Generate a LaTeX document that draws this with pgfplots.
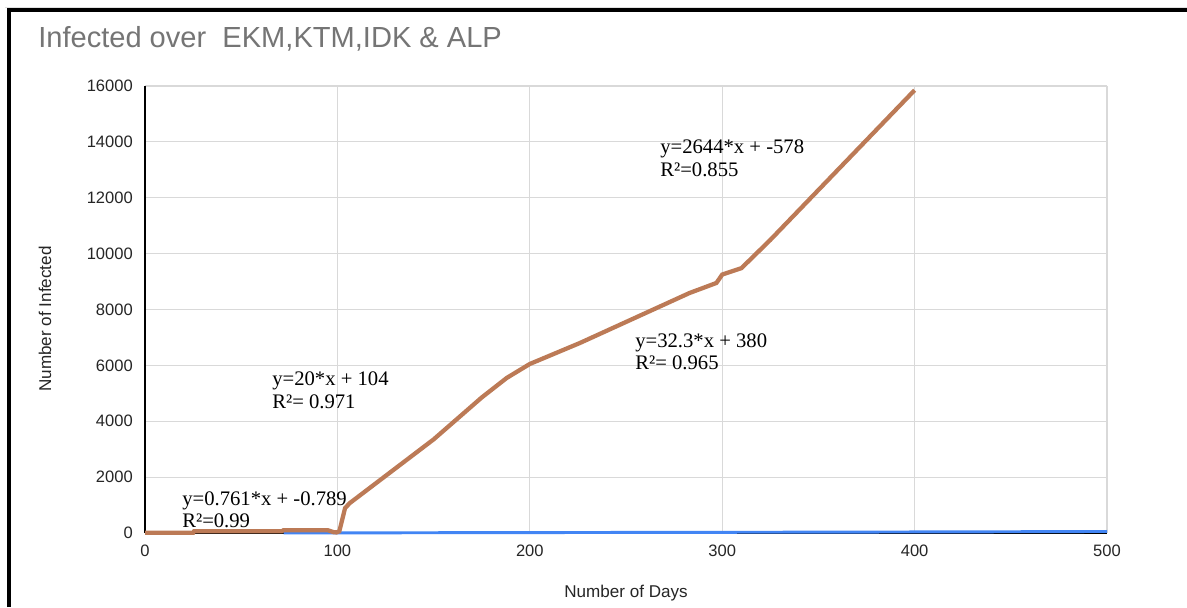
\documentclass[border=0pt]{standalone}
\usepackage{fontspec}
\setmainfont{Liberation Sans}
\newfontfamily\serif{Liberation Serif}
\usepackage{pgfplots}
\pgfplotsset{compat=1.18}
\definecolor{brownline}{RGB}{188,122,86}
\definecolor{blueline}{RGB}{66,133,244}
\definecolor{titlegrey}{RGB}{117,117,117}
\definecolor{gridgrey}{RGB}{217,217,217}
\begin{document}
\begin{tikzpicture}
\path[use as bounding box] (0pt,0pt) rectangle (890.25pt,455.25pt);
\fill[white] (0pt,0pt) rectangle (890.25pt,455.25pt);
\begin{scope}[x=0.75pt,y=0.75pt]
\draw[gridgrey!80, line width=1pt] (5,599.5) -- (1187,599.5);
\draw[black, line width=3pt] (9,0) -- (9,596.5) -- (1187,596.5);
\node[anchor=base west, font=\fontsize{21.8}{24}\selectfont, text=titlegrey, inner sep=0] at (38,559) {Infected over\ \ EKM,KTM,IDK \& ALP};
\end{scope}
\begin{axis}[
  at={(108.75pt,55.5pt)}, anchor=south west,
  scale only axis, width=721.5pt, height=335.25pt,
  xmin=0, xmax=500, ymin=0, ymax=16000,
  xtick={0,100,...,500}, ytick={0,2000,...,16000},
  scaled y ticks=false, scaled x ticks=false,
  grid=major, grid style={gridgrey, line width=0.9pt},
  axis x line=bottom, axis y line=left,
  axis line style={-, black, line width=0.8pt},
  major tick length=0pt,
  tick label style={font=\fontsize{12.4}{14}\selectfont, text=black!85},
  /pgf/number format/assume math mode=true,
  /pgf/number format/1000 sep={},
  yticklabel style={anchor=east, inner sep=0pt, xshift=-9pt},
  xticklabel style={anchor=north, inner sep=0pt, yshift=-9pt},
  clip=false,
]
\addplot[blueline, line width=2.2pt] coordinates {
(72,0) (150,10) (250,20) (350,30) (450,45) (500,55)
};
\addplot[brownline, line width=3.2pt] coordinates {
(0,5) (25,5) (25.5,60) (71,60) (72,100) (95,100) (98,30) (99.5,20) (101,60)
(104,895) (106.5,1074) (150,3350) (175,4850) (188,5550) (200,6050) (226,6800)
(283,8590) (297,8950) (300,9250) (310,9480) (325,10490) (400,15850)
};
\end{axis}
\begin{scope}[x=0.75pt,y=0.75pt,every node/.style={anchor=base west, inner sep=0pt, font=\serif\fontsize{15.5}{18}\selectfont}]
\node at (182,102) {y=0.761*x + -0.789};
\node at (182,80) {R²=0.99};
\node at (272,221) {y=20*x + 104};
\node at (272,199) {R²= 0.971};
\node at (635,259) {y=32.3*x + 380};
\node at (635,237) {R²= 0.965};
\node at (660,453) {y=2644*x + -578};
\node at (660,430) {R²=0.855};
\end{scope}
\begin{scope}[x=0.75pt,y=0.75pt]
\node[font=\fontsize{12.8}{14}\selectfont, text=black!85] at (626,14) {Number of Days};
\node[rotate=90, font=\fontsize{12.8}{14}\selectfont, text=black!85] at (45,288) {Number of Infected};
\end{scope}
\end{tikzpicture}
\end{document}
